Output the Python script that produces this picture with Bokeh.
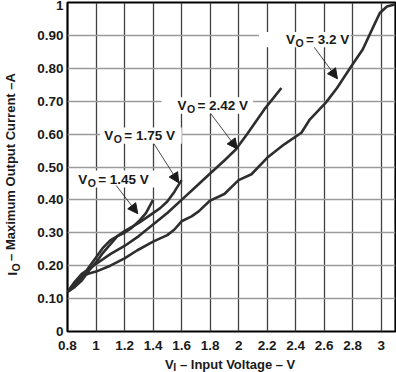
from math import pi
from bokeh.plotting import figure
from bokeh.models import FixedTicker, Label, Arrow, NormalHead
from bokeh.core.properties import value
from bokeh.embed import file_html
from bokeh.resources import INLINE

# ---------------- data ----------------
x_ticks = [0.8, 1.0, 1.2, 1.4, 1.6, 1.8, 2.0, 2.2, 2.4, 2.6, 2.8, 3.0]
x_tick_labels = ["0.8", "1", "1.2", "1.4", "1.6", "1.8", "2", "2.2", "2.4", "2.6", "2.8", "3"]
y_ticks = [0, 0.1, 0.2, 0.3, 0.4, 0.5, 0.6, 0.7, 0.8, 0.9, 1.0]
y_tick_labels = ["0", "0.10", "0.20", "0.30", "0.40", "0.50", "0.60", "0.70", "0.80", "0.90", "1"]

vo_labels = ["1.45", "1.75", "2.42", "3.2"]

vi_145 = [0.8, 0.85, 0.9, 0.95, 1.0, 1.05, 1.1, 1.15, 1.2, 1.25, 1.3, 1.35, 1.4]
io_145 = [0.12, 0.14, 0.165, 0.195, 0.225, 0.255, 0.277, 0.29, 0.30, 0.315, 0.335, 0.36, 0.40]

vi_175 = [0.8, 0.85, 0.9, 0.95, 1.0, 1.05, 1.1, 1.15, 1.2, 1.3, 1.4, 1.45, 1.5, 1.55, 1.6]
io_175 = [0.12, 0.135, 0.155, 0.185, 0.21, 0.24, 0.265, 0.29, 0.305, 0.33, 0.36, 0.375, 0.395, 0.425, 0.46]

vi_242 = [0.8, 0.85, 0.9, 0.95, 1.0, 1.1, 1.2, 1.3, 1.4, 1.5, 1.6, 1.7, 1.8, 1.9, 1.98, 2.06, 2.18, 2.3]
io_242 = [0.12, 0.15, 0.175, 0.19, 0.205, 0.235, 0.26, 0.29, 0.325, 0.36, 0.40, 0.44, 0.48, 0.52, 0.553, 0.60, 0.675, 0.74]

vi_32 = [0.8, 0.85, 0.9, 0.95, 1.0, 1.1, 1.2, 1.29, 1.4, 1.5, 1.55, 1.6, 1.67, 1.72, 1.8, 1.9, 2.0, 2.09,
         2.2, 2.32, 2.44, 2.5, 2.61, 2.69, 2.79, 2.87, 2.94, 2.99, 3.04, 3.1]
io_32 = [0.12, 0.15, 0.168, 0.176, 0.182, 0.20, 0.222, 0.247, 0.273, 0.293, 0.31, 0.335, 0.35, 0.365, 0.398,
         0.418, 0.46, 0.478, 0.528, 0.569, 0.604, 0.645, 0.695, 0.74, 0.806, 0.857, 0.922, 0.968, 0.988, 0.995]

curves = [(vi_145, io_145), (vi_175, io_175), (vi_242, io_242), (vi_32, io_32)]

x_title = ["V", "I", "– Input Voltage – V"]
y_title = ["I", "O", "– Maximum Output Current –A"]

# ---------------- layout / style ----------------
FONT = "Liberation Sans"
TICK = "13.5px"
TITLE = "13px"
SUB = "10.5px"
CURVE_COLOR = "#2e2e2e"
TEXT_COLOR = "#1a1a1a"

p = figure(width=396, height=372, x_range=(0.8, 3.1), y_range=(0, 1),
           output_backend="svg", toolbar_location=None,
           min_border_left=66, min_border_right=1, min_border_top=2, min_border_bottom=41)
p.background_fill_color = "white"
p.border_fill_color = "white"
p.outline_line_color = "black"
p.outline_line_width = 2.2

p.xaxis.ticker = FixedTicker(ticks=x_ticks)
p.yaxis.ticker = FixedTicker(ticks=y_ticks)
p.xaxis.major_label_overrides = {t: l for t, l in zip(x_ticks, x_tick_labels)}
p.yaxis.major_label_overrides = {t: l for t, l in zip(y_ticks, y_tick_labels)}
for ax in (p.xaxis[0], p.yaxis[0]):
    ax.axis_line_color = None
    ax.major_tick_line_color = None
    ax.minor_tick_line_color = None
    ax.major_tick_out = 0
    ax.major_tick_in = 0
    ax.major_label_text_font = FONT
    ax.major_label_text_font_style = "bold"
    ax.major_label_text_font_size = TICK
    ax.major_label_text_color = TEXT_COLOR
p.xaxis.major_label_standoff = 9
p.yaxis.major_label_standoff = 4

# y title main text as the axis label (centred on the frame)
p.yaxis.axis_label = y_title[2]
p.yaxis.axis_label_text_font = FONT
p.yaxis.axis_label_text_font_style = "bold"
p.yaxis.axis_label_text_font_size = TITLE
p.yaxis.axis_label_text_color = TEXT_COLOR
p.yaxis.axis_label_standoff = 16

p.xgrid.ticker = FixedTicker(ticks=x_ticks)
p.ygrid.ticker = FixedTicker(ticks=y_ticks)
p.xgrid.grid_line_color = "#404040"
p.xgrid.grid_line_width = 1.3
p.ygrid.grid_line_color = "#9a9a9a"
p.ygrid.grid_line_width = 1.5


def title_text(x, y, text, size, angle=0.0):
    # drawn on the overlay level so it can sit outside the frame
    p.text(x=[x], y=[y], text=[text], angle=angle, text_align="left",
           text_baseline="alphabetic", text_font=value(FONT), text_font_style="bold",
           text_font_size=size, text_color=TEXT_COLOR, level="overlay")


# x title: V with subscript I, then the rest
title_text(1.483, -0.0988, x_title[0], TITLE)
title_text(1.5415, -0.1079, x_title[1], SUB)
title_text(1.5885, -0.0988, x_title[2], TITLE)
# y title start: I with subscript O (the rest is the axis label)
title_text(0.4167, 0.170, y_title[0], TITLE, pi / 2)
title_text(0.4411, 0.182, y_title[1], SUB, pi / 2)

# white boxes behind the curve labels (left, right, bottom, top)
boxes = [(0.851, 1.422, 0.438, 0.489),
         (1.029, 1.601, 0.571, 0.620),
         (1.459, 2.101, 0.662, 0.712),
         (2.143, 2.784, 0.864, 0.910)]
p.quad(left=[b[0] for b in boxes], right=[b[1] for b in boxes],
       bottom=[b[2] for b in boxes], top=[b[3] for b in boxes],
       fill_color="white", line_color=None)

for xs, ys in curves:
    p.line(xs, ys, line_color=CURVE_COLOR, line_width=2.6, line_join="round")

# curve labels
label_pos = [(0.875, 0.462), (1.058, 0.596), (1.571, 0.687), (2.333, 0.888)]


def add_text(x, y, text, size=TICK, xo=0, yo=0):
    p.add_layout(Label(x=x, y=y, text=text, x_offset=xo, y_offset=yo,
                       text_font=FONT, text_font_style="bold", text_font_size=size,
                       text_color=TEXT_COLOR, text_align="left", text_baseline="middle"))


for (lx, ly), v in zip(label_pos, vo_labels):
    add_text(lx, ly, "V")
    add_text(lx, ly, "O", size=SUB, xo=9.5, yo=-3.5)
    add_text(lx, ly, " = " + v + " V", xo=20)

# arrows (start -> end)
arrows = [((1.141, 0.444), (1.293, 0.358)),
          ((1.406, 0.571), (1.580, 0.452)),
          ((1.803, 0.663), (1.990, 0.555)),
          ((2.530, 0.864), (2.693, 0.768))]
for (x0, y0), (x1, y1) in arrows:
    p.add_layout(Arrow(end=NormalHead(size=10, fill_color=TEXT_COLOR, line_color=TEXT_COLOR, line_width=1),
                       x_start=x0, y_start=y0, x_end=x1, y_end=y1,
                       line_color=TEXT_COLOR, line_width=0.8))

open("out.html", "w").write(file_html(p, INLINE))
